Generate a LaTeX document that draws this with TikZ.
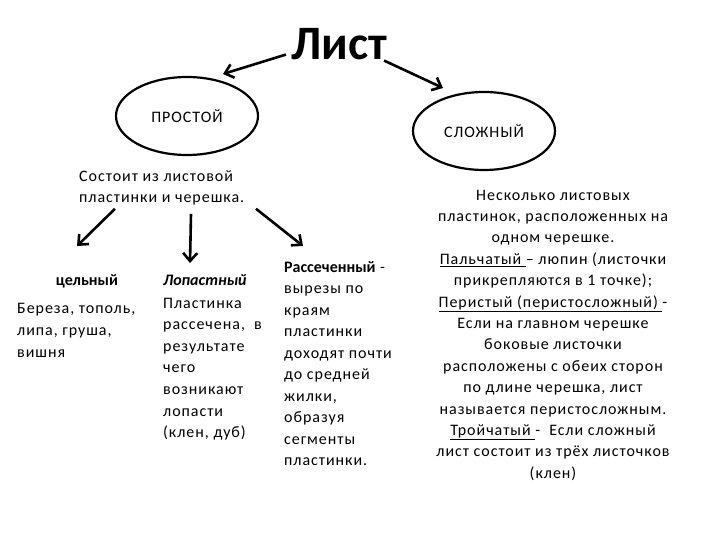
\documentclass[tikz,border=0pt]{standalone}
\usepackage{fontspec}
\setmainfont{Carlito}[LetterSpace=6,BoldFeatures={LetterSpace=0},BoldItalicFeatures={LetterSpace=0}]
\usetikzlibrary{arrows.meta,shapes.geometric}

\begin{document}
\begin{tikzpicture}[x=1pt,y=1pt,
  txt/.style={inner sep=0pt,align=left,anchor=base west,font=\fontsize{16}{21.6}\selectfont},
  oval/.style={draw,ellipse,line width=2.2pt,minimum width=142pt,minimum height=78pt,font=\fontsize{16}{18}\selectfont},
  arr/.style={-{Straight Barb[length=8pt,width=14pt]},line width=2.6pt}]
  \useasboundingbox (0,0) rectangle (720,-540);
  \node[inner sep=0pt,anchor=base,font=\fontsize{48}{50}\selectfont\bfseries] (list) at (339,-60) {Лист};
  \node[oval] (prost) at (187,-116) {ПРОСТОЙ};
  \node[oval] (slozh) at (484,-131) {СЛОЖНЫЙ};
  % multi-line nodes: base = last line
  \node[txt] (sost) at (79,-203) {Состоит из листовой\\пластинки и черешка.};
  \node[txt,anchor=base,font=\fontsize{16}{18}\selectfont\bfseries] (cel) at (87,-285) {цельный};
  \node[txt] (celtxt) at (17,-357) {Береза, тополь,\\липа, груша,\\вишня};
  \node[txt,font=\fontsize{16}{18}\selectfont\bfseries\itshape] (lop) at (163,-285) {Лопастный};
  \node[txt] (loptxt) at (163,-437.6) {Пластинка\\рассечена,\ \ в\\результате\\чего\\возникают\\лопасти\\(клен, дуб)};
  \node[txt,font=\fontsize{16}{21.5}\selectfont] (rass) at (284,-465.5) {\textbf{Рассеченный} -\\вырезы по\\краям\\пластинки\\доходят почти\\до средней\\жилки,\\образуя\\сегменты\\пластинки.};
  \node[txt,align=center,anchor=base,font=\fontsize{16}{21.4}\selectfont] (sltxt) at (553,-478.2) {Несколько листовых\\пластинок, расположенных на\\одном черешке.\\\underline{Пальчатый }– люпин (листочки\\прикрепляются в 1 точке);\\\underline{Перистый (перистосложный) }-\\Если на главном черешке\\боковые листочки\\расположены с обеих сторон\\по длине черешка, лист\\называется перистосложным.\\\underline{Тройчатый }-\ \ Если сложный\\лист состоит из трёх листочков\\(клен)};
  % arrow ends
  \coordinate (l0) at ([shift={(-5,6)}]list.south west);
  \coordinate (r0) at ([xshift=-3]list.south east);
  \coordinate (s1) at ([shift={(36,-3)}]sost.south west);
  \coordinate (s2) at ([shift={(112,-8)}]sost.south west);
  \coordinate (s3) at ([shift={(177,-3)}]sost.south west);
  \coordinate (tl) at (223,-74);
  \coordinate (tr) at (443,-88);
  \coordinate (t1) at (77,-246);
  \coordinate (t2) at (190,-263);
  \coordinate (t3) at (303,-246);
  \foreach \a/\b in {l0/tl,r0/tr,s1/t1,s2/t2,s3/t3}{\draw[arr] (\a) -- (\b);}
\end{tikzpicture}
\end{document}
